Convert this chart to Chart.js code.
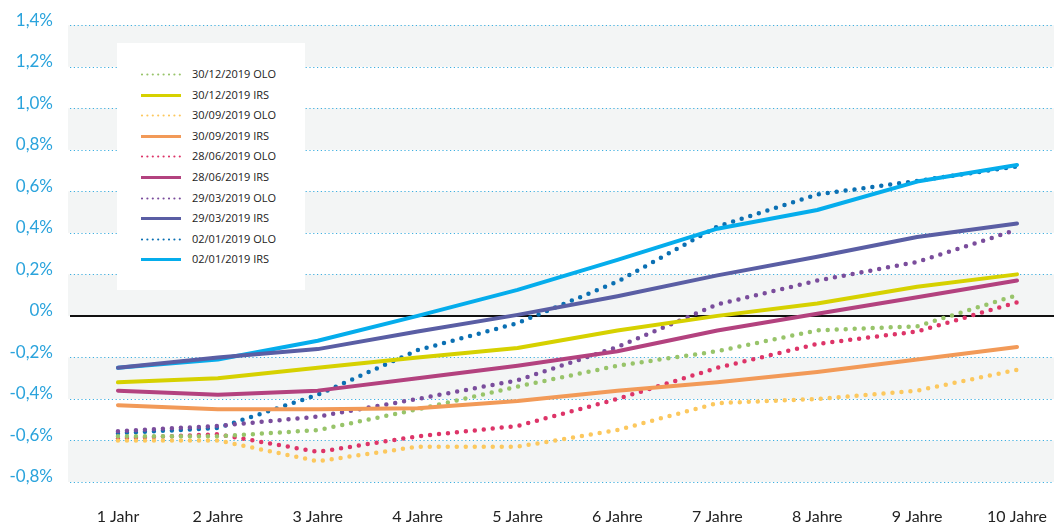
<!DOCTYPE html>
<html>
<head>
<meta charset="utf-8">
<script src="https://cdn.jsdelivr.net/npm/chart.js@4"></script>
<style>
html, body { margin: 0; padding: 0; background: #fff; }
#wrap { position: relative; width: 1054px; height: 524px; }
#legend {
  position: absolute; left: 117px; top: 43px; width: 188px; height: 247px;
  background: #fff; font-family: "Open Sans", sans-serif; font-size: 11px; color: #222;
  padding-top: 21px; box-sizing: border-box;
}
#legend .row { height: 20.6px; line-height: 20.6px; position: relative; white-space: nowrap; }
#legend svg { position: absolute; left: 23px; top: 8px; }
#legend span { position: absolute; left: 75px; top: 0; }
</style>
</head>
<body>
<div id="wrap">
  <canvas id="chart" width="1054" height="524"></canvas>
  <div id="legend"></div>
</div>
<script>
// Laufzeiten
var years = ['1 Jahr', '2 Jahre', '3 Jahre', '4 Jahre', '5 Jahre', '6 Jahre', '7 Jahre', '8 Jahre', '9 Jahre', '10 Jahre'];
var yTicks = [-0.8, -0.6, -0.4, -0.2, 0, 0.2, 0.4, 0.6, 0.8, 1.0, 1.2, 1.4];

// Renditen in %
var olo_3012 = [-0.58, -0.58, -0.55, -0.45, -0.34, -0.24, -0.17, -0.07, -0.05, 0.10];
var irs_3012 = [-0.32, -0.30, -0.25, -0.20, -0.155, -0.07, 0.0, 0.06, 0.14, 0.20];
var olo_3009 = [-0.60, -0.60, -0.70, -0.63, -0.63, -0.55, -0.42, -0.40, -0.36, -0.26];
var irs_3009 = [-0.43, -0.45, -0.45, -0.445, -0.41, -0.36, -0.32, -0.27, -0.21, -0.15];
var olo_2806 = [-0.59, -0.57, -0.655, -0.58, -0.53, -0.40, -0.25, -0.135, -0.075, 0.065];
var irs_2806 = [-0.36, -0.38, -0.36, -0.30, -0.24, -0.17, -0.07, 0.01, 0.09, 0.17];
var olo_2903 = [-0.555, -0.53, -0.485, -0.40, -0.31, -0.15, 0.055, 0.17, 0.26, 0.415];
var irs_2903 = [-0.25, -0.20, -0.16, -0.075, 0.005, 0.095, 0.195, 0.285, 0.38, 0.445];
var olo_0201 = [-0.565, -0.54, -0.38, -0.165, -0.035, 0.165, 0.43, 0.585, 0.65, 0.72];
var irs_0201 = [-0.25, -0.21, -0.12, 0.0, 0.125, 0.27, 0.42, 0.51, 0.647, 0.727];

function pts(data) {
  return data.map(function (v, i) { return { x: i + 1, y: v }; });
}

function olo(label, data, color) {
  return {
    label: label, data: pts(data), borderColor: color, backgroundColor: color,
    borderWidth: 4.5, borderDash: [0, 9], borderCapStyle: 'round', borderJoinStyle: 'round',
    pointRadius: 0, tension: 0, fill: false, order: 2, dotted: true
  };
}
function irs(label, data, color) {
  return {
    label: label, data: pts(data), borderColor: color, backgroundColor: color,
    borderWidth: 4, borderCapStyle: 'round', borderJoinStyle: 'round',
    pointRadius: 0, tension: 0, fill: false, order: 1, dotted: false
  };
}

var datasets = [
  olo('30/12/2019 OLO', olo_3012, '#98c46a'),
  irs('30/12/2019 IRS', irs_3012, '#d6d100'),
  olo('30/09/2019 OLO', olo_3009, '#fcc85e'),
  irs('30/09/2019 IRS', irs_3009, '#f29a58'),
  olo('28/06/2019 OLO', olo_2806, '#dd3468'),
  irs('28/06/2019 IRS', irs_2806, '#b3427f'),
  olo('29/03/2019 OLO', olo_2903, '#7a4d9c'),
  irs('29/03/2019 IRS', irs_2903, '#5a5ea4'),
  olo('02/01/2019 OLO', olo_0201, '#0b70b3'),
  irs('02/01/2019 IRS', irs_0201, '#05adec')
];

// Hintergrund: Bänder, gepunktete Gitterlinien, Nulllinie
var bandsPlugin = {
  id: 'bands',
  beforeDatasetsDraw: function (chart) {
    var ctx = chart.ctx, a = chart.chartArea, y = chart.scales.y;
    ctx.save();
    ctx.fillStyle = '#f3f5f5';
    for (var i = 0; i < yTicks.length - 1; i += 2) {
      var top = y.getPixelForValue(yTicks[i + 1]);
      var bot = y.getPixelForValue(yTicks[i]);
      ctx.fillRect(a.left, top, a.right - a.left, bot - top);
    }
    ctx.strokeStyle = '#3eafe0';
    ctx.lineWidth = 1.2;
    ctx.setLineDash([1.2, 2.6]);
    yTicks.forEach(function (v) {
      var py = Math.round(y.getPixelForValue(v)) + 0.5;
      ctx.beginPath();
      ctx.moveTo(a.left + 2, py);
      ctx.lineTo(a.right, py);
      ctx.stroke();
    });
    ctx.setLineDash([]);
    ctx.strokeStyle = '#111';
    ctx.lineWidth = 2;
    var z = y.getPixelForValue(0);
    ctx.beginPath();
    ctx.moveTo(a.left + 2, z);
    ctx.lineTo(a.right, z);
    ctx.stroke();
    ctx.restore();
  }
};

new Chart(document.getElementById('chart'), {
  type: 'line',
  data: { datasets: datasets },
  options: {
    responsive: false,
    animation: false,
    layout: { padding: { top: 25, right: 0, bottom: 0, left: 0 } },
    plugins: { legend: { display: false }, tooltip: { enabled: false } },
    scales: {
      x: {
        type: 'linear', min: 0.5, max: 10.37,
        grid: { display: false, drawTicks: false },
        border: { display: false },
        afterBuildTicks: function (scale) {
          scale.ticks = years.map(function (_, i) { return { value: i + 1 }; });
        },
        afterFit: function (scale) {
          scale.height = 42;
          scale.paddingLeft = 0;
          scale.paddingRight = 0;
        },
        ticks: {
          padding: 25, maxRotation: 0, autoSkip: false,
          color: '#222', font: { family: 'Lato', size: 16 },
          callback: function (v) { return years[Math.round(v) - 1]; }
        }
      },
      y: {
        min: -0.8, max: 1.4,
        grid: { display: false, drawTicks: false },
        border: { display: false },
        afterBuildTicks: function (scale) {
          scale.ticks = yTicks.map(function (v) { return { value: v }; });
        },
        afterFit: function (scale) { scale.width = 68; },
        ticks: {
          padding: 15, labelOffset: -5,
          color: '#2aa3dc', font: { family: 'Lato', size: 17 },
          callback: function (v) {
            if (Math.abs(v) < 1e-9) return '0%';
            return v.toFixed(1).replace('.', ',') + '%';
          }
        }
      }
    }
  },
  plugins: [bandsPlugin]
});

// Legende
var legend = document.getElementById('legend');
datasets.forEach(function (ds) {
  var row = document.createElement('div');
  row.className = 'row';
  var svg = ds.dotted
    ? '<svg width="42" height="5"><line x1="2" y1="2.5" x2="40" y2="2.5" stroke="' + ds.borderColor + '" stroke-width="2.2" stroke-linecap="round" stroke-dasharray="0 5.4"/></svg>'
    : '<svg width="42" height="5"><line x1="1" y1="2.5" x2="41" y2="2.5" stroke="' + ds.borderColor + '" stroke-width="3"/></svg>';
  row.innerHTML = svg + '<span>' + ds.label + '</span>';
  legend.appendChild(row);
});
</script>
</body>
</html>
